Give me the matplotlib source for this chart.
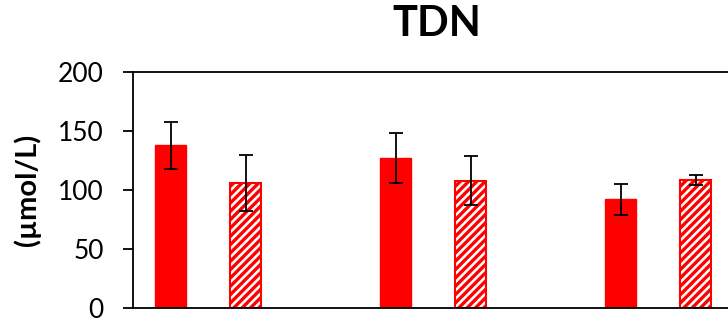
import numpy as np
import matplotlib.pyplot as plt

plt.rcParams['font.family'] = ['Lato', 'DejaVu Sans']
plt.rcParams['hatch.color'] = 'red'
plt.rcParams['hatch.linewidth'] = 2.4

# datos
grupos = ['A', 'B', 'C']
solido = [138, 127, 92]
solido_err = [20, 21, 13]
rayado = [106, 108, 108.5]
rayado_err = [24, 21, 4]

x = np.arange(len(grupos))
ancho = 0.14

fig = plt.figure(figsize=(7.28, 3.22), dpi=100)
ax = fig.add_axes([133 / 728, 14 / 322, 675 / 728, 236 / 322])

ax.bar(x - 0.333, solido, ancho, color='red', edgecolor='red', linewidth=1,
       yerr=solido_err, error_kw=dict(ecolor='black', elinewidth=1.3, capsize=5, capthick=1.3))
ax.bar(x, rayado, ancho, color='white', edgecolor='red', linewidth=1.5, hatch='////',
       yerr=rayado_err, error_kw=dict(ecolor='black', elinewidth=1.3, capsize=5, capthick=1.3))

ax.set_xlim(-0.5, 2.5)
ax.set_ylim(0, 200)
ax.set_yticks([0, 50, 100, 150, 200])
ax.set_xticks([])
ax.tick_params(axis='y', direction='out', length=7, width=1.3, labelsize=19, pad=14)
for s in ax.spines.values():
    s.set_linewidth(1.3)

ax.set_ylabel('(µmol/L)', fontsize=21, fontweight='bold', labelpad=12)
fig.text(437 / 728, 1 - 24 / 322, 'TDN', fontsize=30, fontweight='bold', ha='center', va='center')

plt.savefig('out.png', dpi=100)
